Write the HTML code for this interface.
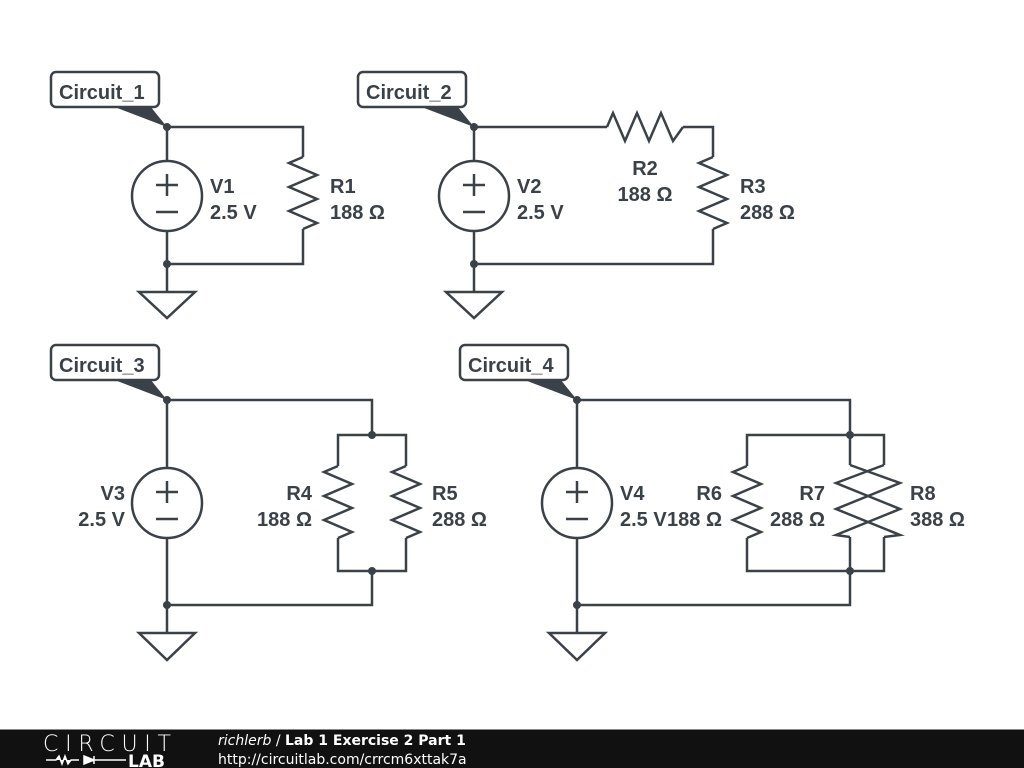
<!DOCTYPE html>
<html><head><meta charset="utf-8"><style>
html,body{margin:0;padding:0;background:#fff;width:1024px;height:768px;overflow:hidden}
svg{display:block}
</style></head><body>
<svg width="1024" height="768" xmlns="http://www.w3.org/2000/svg">
<defs>
<symbol id="rv" overflow="visible"><polyline points="0,0 -14,6 14,18 -14,30 14,42 -14,54 14,66 0,72" fill="none" stroke="#3b4148" stroke-width="2.5" stroke-linejoin="miter"/></symbol>
</defs>
<g fill="none" stroke="#3b4148" stroke-width="2.5">
<polyline points="167,161 167,127 303,127 303,157"/>
<polyline points="303,229 303,264 167,264 167,231"/>
<line x1="167" y1="264" x2="167" y2="292"/>
<polygon points="139,292 195,292 167,318"/>
<circle cx="167" cy="196" r="35"/>
<polyline points="474,161 474,127 607,127"/>
<polyline points="683,127 713,127 713,157"/>
<polyline points="713,229 713,264 474,264 474,231"/>
<line x1="474" y1="264" x2="474" y2="292"/>
<polygon points="446,292 502,292 474,318"/>
<circle cx="474" cy="196" r="35"/>
<polyline points="607,127 613,113 625,141 637,113 649,141 661,113 673,141 683,127"/>
<polyline points="167,468 167,400 372,400 372,435"/>
<polyline points="338,466 338,435 406,435 406,466"/>
<polyline points="338,538 338,571 406,571 406,538"/>
<polyline points="372,571 372,605 167,605 167,538"/>
<line x1="167" y1="605" x2="167" y2="633"/>
<polygon points="139,633 195,633 167,660"/>
<circle cx="167" cy="503" r="35"/>
<polyline points="577,468 577,400 850,400 850,435"/>
<polyline points="747,466 747,435 884,435 884,465"/>
<line x1="850" y1="435" x2="850" y2="465"/>
<polyline points="747,538 747,571 884,571 884,537"/>
<line x1="850" y1="537" x2="850" y2="571"/>
<polyline points="850,571 850,605 577,605 577,538"/>
<line x1="577" y1="605" x2="577" y2="633"/>
<polygon points="549,633 605,633 577,660"/>
<circle cx="577" cy="503" r="35"/>
<polyline points="850,465 900,483 836,509 900,535 884,537"/>
<polyline points="884,465 836,483 900,509 836,535 850,537"/>
<path d="M156,185h22M167,174v22M156,212h22"/>
<path d="M463,185h22M474,174v22M463,212h22"/>
<path d="M156,492h22M167,481v22M156,519h22"/>
<path d="M566,492h22M577,481v22M566,519h22"/>
</g>
<use href="#rv" x="303" y="157"/>
<use href="#rv" x="713" y="157"/>
<use href="#rv" x="338" y="466"/>
<use href="#rv" x="406" y="466"/>
<use href="#rv" x="747" y="466"/>
<g fill="#3b4148">
<circle cx="167" cy="127" r="4"/><circle cx="167" cy="264" r="4"/>
<circle cx="474" cy="127" r="4"/><circle cx="474" cy="264" r="4"/>
<circle cx="167" cy="400" r="4"/><circle cx="167" cy="605" r="4"/><circle cx="372" cy="435" r="4"/><circle cx="372" cy="571" r="4"/>
<circle cx="577" cy="400" r="4"/><circle cx="577" cy="605" r="4"/><circle cx="850" cy="435" r="4"/><circle cx="850" cy="571" r="4"/>
<polygon points="112,106 150,106 167,127"/>
<polygon points="419,106 457,106 474,127"/>
<polygon points="112,379 150,379 167,400"/>
<polygon points="522,379 560,379 577,400"/>
</g>
<g fill="#fff" stroke="#3b4148" stroke-width="2.5">
<rect x="51" y="72" width="108" height="35" rx="5"/>
<rect x="358" y="72" width="108" height="35" rx="5"/>
<rect x="51" y="345" width="108" height="35" rx="5"/>
<rect x="460" y="345" width="108" height="35" rx="5"/>
</g>
<g font-family="Liberation Sans, sans-serif" font-weight="bold" font-size="20" fill="#3b4148">
<text x="59" y="99">Circuit_1</text>
<text x="366" y="99">Circuit_2</text>
<text x="59" y="372">Circuit_3</text>
<text x="468" y="372">Circuit_4</text>
<text x="210" y="193">V1</text><text x="210" y="219">2.5 V</text>
<text x="330" y="193">R1</text><text x="330" y="219">188 Ω</text>
<text x="517" y="193">V2</text><text x="517" y="219">2.5 V</text>
<text x="645" y="175" text-anchor="middle">R2</text><text x="645" y="201" text-anchor="middle">188 Ω</text>
<text x="740" y="193">R3</text><text x="740" y="219">288 Ω</text>
<text x="125" y="500" text-anchor="end">V3</text><text x="125" y="526" text-anchor="end">2.5 V</text>
<text x="312" y="500" text-anchor="end">R4</text><text x="312" y="526" text-anchor="end">188 Ω</text>
<text x="432" y="500">R5</text><text x="432" y="526">288 Ω</text>
<text x="620" y="500">V4</text><text x="620" y="526">2.5 V</text>
<text x="722" y="500" text-anchor="end">R6</text><text x="722" y="526" text-anchor="end">188 Ω</text>
<text x="825" y="500" text-anchor="end">R7</text><text x="825" y="526" text-anchor="end">288 Ω</text>
<text x="910" y="500">R8</text><text x="910" y="526">388 Ω</text>
</g>
<rect x="0" y="729" width="1024" height="39" fill="#111"/>
<line x1="0" y1="729.5" x2="1024" y2="729.5" stroke="#888"/>
<text x="43" y="751" font-family="DejaVu Sans, sans-serif" font-size="22" font-weight="200" fill="#fff" textLength="128">CIRCUIT</text>
<path d="M46,760h10l3,-4 3,8 3,-8 3,8 3,-4h8M84,756v8l10,-4z M94,756v8M94,760h32" stroke="#fff" stroke-width="1.5" fill="#fff"/>
<text x="128" y="767" font-family="DejaVu Sans, sans-serif" font-size="17" font-weight="bold" fill="#fff">LAB</text>
<text x="218" y="745" font-family="DejaVu Sans, sans-serif" font-size="14" fill="#fff"><tspan font-style="italic">richlerb</tspan> / <tspan font-weight="bold">Lab 1 Exercise 2 Part 1</tspan></text>
<text x="218" y="764" font-family="DejaVu Sans, sans-serif" font-size="14" fill="#fff">http://circuitlab.com/crrcm6xttak7a</text>
</svg>
</body></html>
